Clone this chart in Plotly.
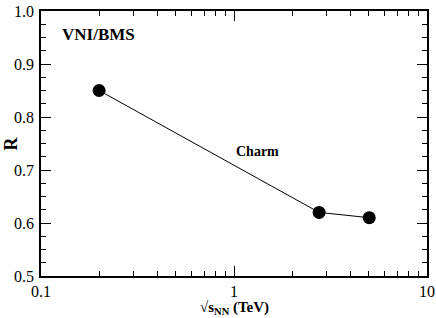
import plotly.graph_objects as go

energy_tev = [0.2, 2.76, 5.02]
ratio_r = [0.85, 0.62, 0.61]
x_major = [0.1, 1, 10]
x_major_labels = ["0.1", "1", "10"]
x_minor = [0.2, 0.3, 0.4, 0.5, 0.6, 0.7, 0.8, 0.9, 2, 3, 4, 5, 6, 7, 8, 9]
y_major = [0.5, 0.6, 0.7, 0.8, 0.9, 1.0]
y_major_labels = ["0.5", "0.6", "0.7", "0.8", "0.9", "1.0"]

font_family = "Liberation Serif, Times New Roman, serif"

fig = go.Figure()
fig.add_trace(go.Scatter(
    x=energy_tev, y=ratio_r, mode="lines+markers",
    line=dict(color="black", width=1),
    marker=dict(color="black", size=13),
    showlegend=False,
))

axis_common = dict(
    showgrid=False, zeroline=False, showline=True, linecolor="black", linewidth=1.5,
    mirror="ticks", ticks="inside", ticklen=10, tickwidth=1, tickcolor="black",
    tickfont=dict(family=font_family, size=16, color="black"),
    automargin=False,
)

fig.update_xaxes(
    type="log", range=[-1, 1], tickvals=x_major, ticktext=x_major_labels,
    minor=dict(tickvals=x_minor, ticks="inside", ticklen=5, tickcolor="black", tickwidth=1),
    **axis_common,
)
fig.update_yaxes(
    range=[0.5, 1.0], tickvals=y_major, ticktext=y_major_labels,
    minor=dict(dtick=0.025, ticks="inside", ticklen=5, tickcolor="black", tickwidth=1),
    ticklabelstandoff=2,
    **axis_common,
)

fig.add_annotation(x=0.5, y=-0.08, xref="paper", yref="paper", text="<b>√s<sub>NN</sub> (TeV)</b>",
                   showarrow=False, xanchor="center", yanchor="top",
                   font=dict(family=font_family, size=15, color="black"))
fig.add_annotation(x=-0.08, y=0.5, xref="paper", yref="paper", text="<b>R</b>",
                   showarrow=False, xanchor="center", yanchor="middle", textangle=-90,
                   font=dict(family=font_family, size=18, color="black"))

fig.add_annotation(x=-0.9, y=0.955, xref="x", yref="y", text="<b>VNI/BMS</b>",
                   showarrow=False, xanchor="left", yanchor="middle",
                   font=dict(family=font_family, size=17, color="black"))
fig.add_annotation(x=0.0, y=0.735, xref="x", yref="y", text="<b>Charm</b>",
                   showarrow=False, xanchor="left", yanchor="middle",
                   font=dict(family=font_family, size=14, color="black"))

fig.update_layout(
    width=436, height=318,
    margin=dict(l=41, r=9, t=11, b=42),
    plot_bgcolor="white", paper_bgcolor="white",
    font=dict(family=font_family, color="black"),
)

fig.write_html("out.html", config={"displayModeBar": False},
               post_script="document.body.style.margin='0';document.body.style.overflow='hidden';")
